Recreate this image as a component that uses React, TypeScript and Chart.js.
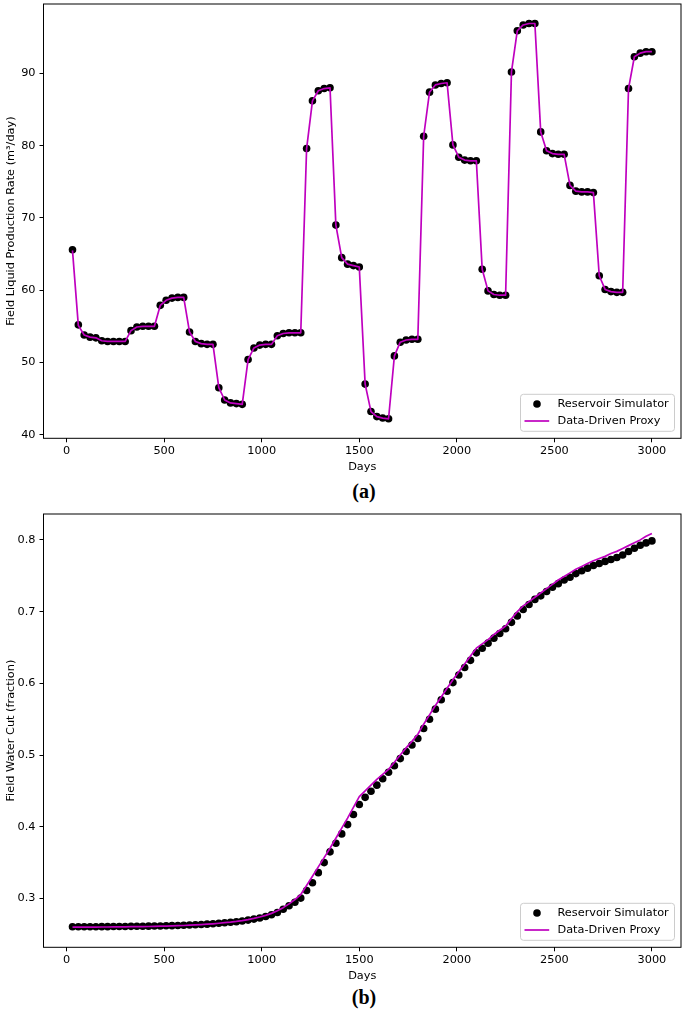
import React, { useEffect, useRef } from 'react';
import { Chart, registerables } from 'chart.js';

Chart.register(...registerables);

// ---------- data ----------
const days = [
  30, 60, 90, 120, 150, 180, 210, 240, 270, 300,
  330, 360, 390, 420, 450, 480, 510, 540, 570, 600,
  630, 660, 690, 720, 750, 780, 810, 840, 870, 900,
  930, 960, 990, 1020, 1050, 1080, 1110, 1140, 1170, 1200,
  1230, 1260, 1290, 1320, 1350, 1380, 1410, 1440, 1470, 1500,
  1530, 1560, 1590, 1620, 1650, 1680, 1710, 1740, 1770, 1800,
  1830, 1860, 1890, 1920, 1950, 1980, 2010, 2040, 2070, 2100,
  2130, 2160, 2190, 2220, 2250, 2280, 2310, 2340, 2370, 2400,
  2430, 2460, 2490, 2520, 2550, 2580, 2610, 2640, 2670, 2700,
  2730, 2760, 2790, 2820, 2850, 2880, 2910, 2940, 2970, 3000,
];

const xTicks = [0, 500, 1000, 1500, 2000, 2500, 3000];
const rateTicks = [40, 50, 60, 70, 80, 90];
const cutTicks = [0.3, 0.4, 0.5, 0.6, 0.7, 0.8];

const seriesLabels = ['Reservoir Simulator', 'Data-Driven Proxy'];

const rateSimulator = [
  65.6, 55.2, 53.8, 53.5, 53.4, 53.0, 52.9, 52.9, 52.9, 52.9,
  54.4, 54.9, 55.0, 55.0, 55.0, 57.9, 58.6, 58.9, 59.0, 59.0,
  54.2, 52.9, 52.6, 52.5, 52.5, 46.5, 44.8, 44.4, 44.3, 44.2,
  50.4, 52.0, 52.4, 52.5, 52.5, 53.7, 54.0, 54.1, 54.1, 54.1,
  79.6, 86.2, 87.6, 87.9, 88.0, 69.0, 64.5, 63.6, 63.4, 63.2,
  47.0, 43.2, 42.5, 42.3, 42.2, 50.9, 52.8, 53.1, 53.2, 53.2,
  81.3, 87.4, 88.4, 88.6, 88.7, 80.1, 78.4, 78.0, 77.9, 77.9,
  62.9, 59.9, 59.4, 59.3, 59.3, 90.2, 95.9, 96.7, 96.9, 96.9,
  81.9, 79.3, 78.9, 78.8, 78.8, 74.5, 73.7, 73.6, 73.6, 73.5,
  62.0, 60.1, 59.8, 59.7, 59.7, 87.9, 92.3, 92.8, 93.0, 93.0,
];

const rateProxy = [
  65.5, 55.1, 53.8, 53.5, 53.4, 53.0, 52.9, 52.9, 52.9, 52.9,
  54.4, 54.9, 55.0, 55.0, 55.0, 57.9, 58.6, 58.9, 59.0, 59.0,
  54.2, 52.9, 52.6, 52.5, 52.5, 46.5, 44.8, 44.4, 44.3, 44.2,
  50.4, 52.0, 52.4, 52.5, 52.5, 53.7, 54.0, 54.1, 54.1, 54.1,
  79.6, 86.2, 87.6, 87.9, 88.0, 69.0, 64.5, 63.6, 63.4, 63.2,
  47.0, 43.2, 42.5, 42.3, 42.2, 50.9, 52.8, 53.1, 53.2, 53.2,
  81.3, 87.4, 88.4, 88.6, 88.7, 80.1, 78.4, 78.0, 77.9, 77.9,
  62.9, 59.9, 59.4, 59.3, 59.3, 90.2, 95.9, 96.7, 96.9, 96.9,
  81.9, 79.3, 78.9, 78.8, 78.8, 74.5, 73.7, 73.6, 73.6, 73.5,
  62.0, 60.1, 59.8, 59.7, 59.7, 87.9, 92.3, 92.8, 93.0, 93.0,
];

const cutSimulator = [
  0.2605, 0.2605, 0.2605, 0.2606, 0.2606, 0.2607, 0.2607, 0.2608, 0.2609, 0.2610,
  0.2611, 0.2612, 0.2613, 0.2614, 0.2615, 0.2617, 0.2619, 0.2621, 0.2623, 0.2626,
  0.2629, 0.2633, 0.2637, 0.2642, 0.2648, 0.2654, 0.2661, 0.2668, 0.2676, 0.2686,
  0.2698, 0.2712, 0.2728, 0.2748, 0.2772, 0.2805, 0.2850, 0.2898, 0.2948, 0.3005,
  0.311, 0.322, 0.336, 0.350, 0.365, 0.377, 0.390, 0.403, 0.417, 0.431,
  0.441, 0.4495, 0.458, 0.467, 0.476, 0.485, 0.495, 0.505, 0.514, 0.523,
  0.537, 0.550, 0.564, 0.577, 0.589, 0.601, 0.6115, 0.622, 0.632, 0.6425,
  0.649, 0.656, 0.663, 0.6695, 0.676, 0.685, 0.694, 0.703, 0.710, 0.717,
  0.722, 0.728, 0.734, 0.739, 0.744, 0.748, 0.753, 0.757, 0.7606, 0.7643,
  0.767, 0.770, 0.7727, 0.7755, 0.779, 0.7838, 0.7884, 0.7925, 0.7958, 0.7986,
];

const cutProxy = [
  0.2600, 0.2600, 0.2600, 0.2601, 0.2601, 0.2602, 0.2602, 0.2603, 0.2604, 0.2605,
  0.2606, 0.2607, 0.2608, 0.2609, 0.2611, 0.2613, 0.2615, 0.2617, 0.2620, 0.2623,
  0.2627, 0.2631, 0.2636, 0.2641, 0.2647, 0.2654, 0.2662, 0.2670, 0.2680, 0.2692,
  0.2706, 0.2722, 0.2741, 0.2764, 0.2792, 0.2828, 0.2872, 0.2925, 0.2985, 0.3055,
  0.318, 0.331, 0.344, 0.357, 0.370, 0.384, 0.398, 0.412, 0.427, 0.442,
  0.450, 0.458, 0.466, 0.473, 0.480, 0.490, 0.500, 0.510, 0.519, 0.529,
  0.543, 0.556, 0.569, 0.581, 0.593, 0.605, 0.616, 0.627, 0.638, 0.649,
  0.655, 0.661, 0.668, 0.674, 0.680, 0.690, 0.700, 0.708, 0.714, 0.720,
  0.726, 0.732, 0.738, 0.744, 0.749, 0.754, 0.759, 0.763, 0.767, 0.771,
  0.774, 0.777, 0.781, 0.784, 0.788, 0.792, 0.796, 0.800, 0.805, 0.809,
];

// ---------- styling ----------
const FONT_FAMILY = '"DejaVu Sans", Verdana, sans-serif';
const FONT_SIZE = 11.3;
const PROXY_COLOR = '#bf00bf';
const AXIS_COLOR = '#000000';
const MARKER_RADIUS = 3.8;

const framePlugin = {
  id: 'frameBox',
  afterDatasetsDraw(chart: any) {
    const { ctx, chartArea: a } = chart;
    ctx.save();
    ctx.strokeStyle = AXIS_COLOR;
    ctx.lineWidth = 1;
    ctx.strokeRect(a.left, a.top, a.right - a.left, a.bottom - a.top);
    ctx.restore();
  },
};

const legendPlugin = {
  id: 'boxLegend',
  afterDraw(chart: any) {
    const { ctx, chartArea: a } = chart;
    const w = 154;
    const h = 37;
    const x = a.right - 6.5 - w;
    const y = a.bottom - 7 - h;
    ctx.save();
    ctx.beginPath();
    if (typeof ctx.roundRect === 'function') {
      ctx.roundRect(x, y, w, h, 3);
    } else {
      ctx.rect(x, y, w, h);
    }
    ctx.fillStyle = 'rgba(255,255,255,0.8)';
    ctx.fill();
    ctx.strokeStyle = '#cccccc';
    ctx.lineWidth = 1;
    ctx.stroke();

    const row1 = y + 9.7;
    const row2 = y + 26.7;
    ctx.beginPath();
    ctx.arc(x + 16.5, row1, MARKER_RADIUS, 0, Math.PI * 2);
    ctx.fillStyle = '#000';
    ctx.fill();

    ctx.beginPath();
    ctx.moveTo(x + 4, row2);
    ctx.lineTo(x + 28.7, row2);
    ctx.strokeStyle = PROXY_COLOR;
    ctx.lineWidth = 1.7;
    ctx.stroke();

    const labels = chart.data.datasets.map((d: any) => d.label);
    ctx.font = `${FONT_SIZE}px ${FONT_FAMILY}`;
    ctx.fillStyle = '#000';
    ctx.textAlign = 'left';
    ctx.textBaseline = 'middle';
    ctx.fillText(labels[0], x + 37, row1);
    ctx.fillText(labels[1], x + 37, row2);
    ctx.restore();
  },
};

function makeConfig(
  sim: number[],
  proxy: number[],
  yMin: number,
  yMax: number,
  yTicks: number[],
  yTitle: string
): any {
  const font = { family: FONT_FAMILY, size: FONT_SIZE, lineHeight: 1.2 };
  return {
    type: 'scatter',
    data: {
      datasets: [
        {
          label: seriesLabels[0],
          data: days.map((d, i) => ({ x: d, y: sim[i] })),
          showLine: false,
          pointRadius: MARKER_RADIUS,
          pointBackgroundColor: '#000',
          pointBorderColor: '#000',
          pointBorderWidth: 0,
          order: 2,
        },
        {
          type: 'line',
          label: seriesLabels[1],
          data: days.map((d, i) => ({ x: d, y: proxy[i] })),
          showLine: true,
          borderColor: PROXY_COLOR,
          borderWidth: 1.7,
          pointRadius: 0,
          tension: 0,
          fill: false,
          borderJoinStyle: 'round',
          order: 1,
        },
      ],
    },
    options: {
      animation: false,
      responsive: false,
      maintainAspectRatio: false,
      events: [],
      layout: { padding: { top: 2.3, right: 2.5, left: 0, bottom: 0 } },
      plugins: {
        legend: { display: false },
        tooltip: { enabled: false },
        title: { display: false },
      },
      scales: {
        x: {
          type: 'linear',
          min: -118.6,
          max: 3149,
          afterBuildTicks: (s: any) => {
            s.ticks = xTicks.map((v) => ({ value: v }));
          },
          afterFit: (s: any) => {
            s.height = 35.7;
            s.paddingLeft = 0;
            s.paddingRight = 0;
          },
          grid: {
            display: true,
            drawOnChartArea: false,
            drawTicks: true,
            tickLength: 4,
            tickColor: AXIS_COLOR,
            tickWidth: 1,
          },
          border: { display: false },
          ticks: {
            color: '#000',
            font,
            padding: 2,
            maxRotation: 0,
            autoSkip: false,
            callback: (v: any) => String(v),
          },
          title: {
            display: true,
            text: 'Days',
            color: '#000',
            font,
            padding: 0,
          },
        },
        y: {
          type: 'linear',
          min: yMin,
          max: yMax,
          afterBuildTicks: (s: any) => {
            s.ticks = yTicks.map((v) => ({ value: v }));
          },
          afterFit: (s: any) => {
            s.width = 43.5;
            s.paddingTop = 0;
            s.paddingBottom = 0;
          },
          grid: {
            display: true,
            drawOnChartArea: false,
            drawTicks: true,
            tickLength: 4,
            tickColor: AXIS_COLOR,
            tickWidth: 1,
          },
          border: { display: false },
          ticks: {
            color: '#000',
            font,
            padding: 4,
            autoSkip: false,
            callback: (v: any) => String(v),
          },
          title: {
            display: true,
            text: yTitle,
            color: '#000',
            font,
            padding: { top: 4, bottom: 0 },
          },
        },
      },
    },
    plugins: [framePlugin, legendPlugin],
  };
}

function ChartPanel(props: {
  top: number;
  height: number;
  config: () => any;
}) {
  const ref = useRef<HTMLCanvasElement | null>(null);
  useEffect(() => {
    if (!ref.current) return;
    const chart = new Chart(ref.current, props.config());
    return () => chart.destroy();
  }, []);
  return (
    <canvas
      ref={ref}
      width={685}
      height={props.height}
      style={{
        position: 'absolute',
        left: 0,
        top: props.top,
        width: 685,
        height: props.height,
        display: 'block',
      }}
    />
  );
}

const captionStyle: React.CSSProperties = {
  position: 'absolute',
  left: 364,
  transform: 'translateX(-50%)',
  fontFamily: '"Liberation Serif", "Times New Roman", serif',
  fontWeight: 'bold',
  fontSize: 20,
  lineHeight: '20px',
  color: '#000',
  whiteSpace: 'nowrap',
};

export default function App() {
  return (
    <div
      style={{
        position: 'absolute',
        left: 0,
        top: 0,
        width: 685,
        height: 1009,
        background: '#fff',
        overflow: 'hidden',
      }}
    >
      <ChartPanel
        top={0}
        height={474}
        config={() =>
          makeConfig(
            rateSimulator,
            rateProxy,
            39.5,
            99.6,
            rateTicks,
            'Field Liquid Production Rate (m³/day)'
          )
        }
      />
      <div style={{ ...captionStyle, top: 481 }}>(a)</div>
      <ChartPanel
        top={510}
        height={473}
        config={() =>
          makeConfig(
            cutSimulator,
            cutProxy,
            0.2319,
            0.8361,
            cutTicks,
            'Field Water Cut (fraction)'
          )
        }
      />
      <div style={{ ...captionStyle, top: 987 }}>(b)</div>
    </div>
  );
}
